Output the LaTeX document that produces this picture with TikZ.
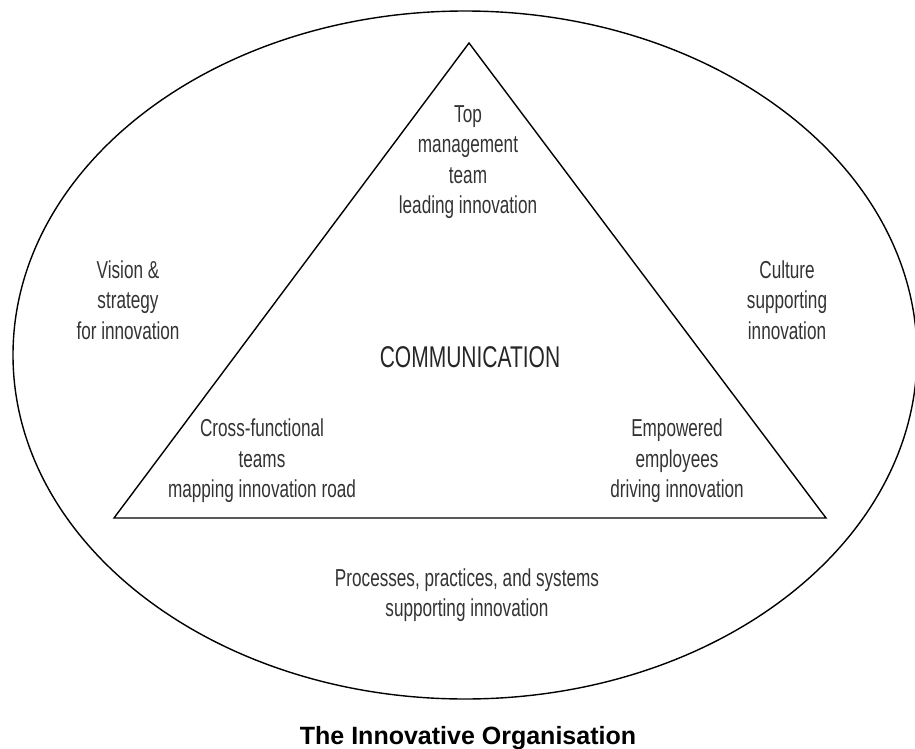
\documentclass[tikz,border=0pt]{standalone}
\usepackage{fontspec}
\setmainfont{Liberation Sans}
\newfontfamily\narrowsans[FakeStretch=0.7]{Liberation Sans}
\usepackage{tikz}

\begin{document}
\begin{tikzpicture}[x=0.5pt, y=-0.5pt,
        % Define the styles for the texts and the outlines
        area/.style={font=\narrowsans\fontsize{12.25}{15.25}\selectfont, text=black!80, align=center, inner sep=0pt},
        core/.style={font=\narrowsans\fontsize{15}{18}\selectfont, text=black!85, inner sep=0pt},
        caption/.style={font=\bfseries\fontsize{12.5}{15}\selectfont, anchor=base, inner sep=0pt},
        outline/.style={line width=0.7pt}]

        % 0. Fix the page size
        \useasboundingbox (0,0) rectangle (915,749);

        % 1. The organisation (outer ellipse)
        \coordinate (O) at (465,355);
        \draw[outline] (O) ellipse [x radius=452, y radius=344];

        % 2. The three corners of the triangle
        \coordinate (Top) at (469,43);
        \coordinate (Left) at (114,518);
        \coordinate (Right) at (826,518);
        \draw[outline, line join=miter] (Top) -- (Left) -- (Right) -- cycle;

        % 3. Texts inside the triangle
        \node[area] (top) at (468,162) {Top\\ management\\ team\\ leading innovation};
        \node[area] (cross) at (262,461) {Cross-functional\\ teams\\ mapping innovation road};
        \node[area] (empower) at (677,461) {Empowered\\ employees\\ driving innovation};
        \node[core] (comm) at (470,357) {COMMUNICATION};

        % 4. Texts round the triangle
        \node[area] (vision) at (128,300) {Vision \&\\ strategy\\ for innovation};
        \node[area] (culture) at (787,300) {Culture\\ supporting\\ innovation};
        \node[area] (process) at (467,595) {Processes, practices, and systems\\ supporting innovation};

        % 5. Title under the ellipse
        \node[caption] (title) at (468,744) {The Innovative Organisation};

    \end{tikzpicture}
\end{document}
